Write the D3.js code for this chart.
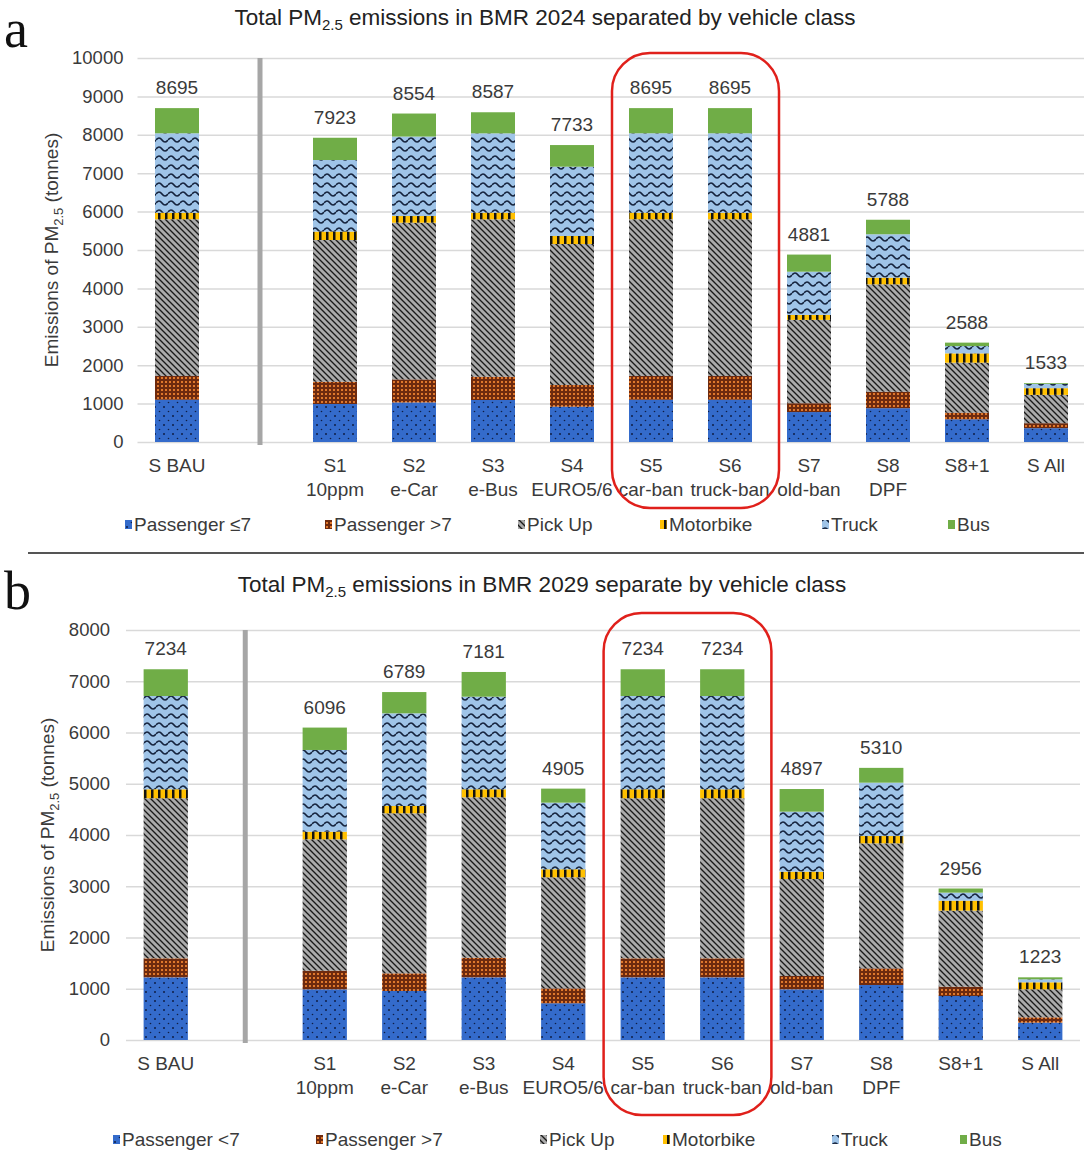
<!DOCTYPE html>
<html>
<head>
<meta charset="utf-8">
<script src="https://cdn.jsdelivr.net/npm/d3@7"></script>
<style>
  body { margin: 0; background: #fff; }
  text { font-family: "Liberation Sans", Arial, sans-serif; }
</style>
</head>
<body>
<svg id="chart" width="1084" height="1152"></svg>
<script>
// ---- data -------------------------------------------------------------
const scenarios = ["S BAU", "S1", "S2", "S3", "S4", "S5", "S6", "S7", "S8", "S8+1", "S All"];
const scenarioNotes = ["", "10ppm", "e-Car", "e-Bus", "EURO5/6", "car-ban", "truck-ban", "old-ban", "DPF", "", ""];

const classes2024 = ["Passenger ≤7", "Passenger >7", "Pick Up", "Motorbike", "Truck", "Bus"];
const classes2029 = ["Passenger <7", "Passenger >7", "Pick Up", "Motorbike", "Truck", "Bus"];

// 2024 emissions (tonnes) per vehicle class, one value per scenario
const passengerSmall2024 = [1100, 990, 1030, 1094, 919, 1100, 1100, 780, 880, 590, 360];
const passengerLarge2024 = [620, 580, 600, 607, 565, 620, 620, 230, 430, 175, 130];
const pickUp2024         = [4080, 3690, 4080, 4097, 3672, 4080, 4080, 2170, 2795, 1300, 737];
const motorbike2024      = [170, 220, 175, 174, 209, 170, 170, 130, 175, 243, 175];
const truck2024          = [2070, 1863, 2069, 2066, 1805, 2070, 2070, 1125, 1130, 190, 110];
const bus2024            = [655, 580, 600, 549, 563, 655, 655, 446, 378, 90, 21];

// 2029 emissions (tonnes) per vehicle class, one value per scenario
const passengerSmall2029 = [1223, 989, 956, 1223, 716, 1223, 1223, 989, 1073, 859, 338];
const passengerLarge2029 = [371, 364, 345, 383, 292, 371, 371, 260, 325, 182, 105];
const pickUp2029         = [3122, 2562, 3122, 3129, 2166, 3122, 3122, 1892, 2439, 1483, 546];
const motorbike2029      = [176, 150, 143, 157, 157, 176, 176, 144, 143, 195, 137];
const truck2029          = [1820, 1594, 1808, 1807, 1300, 1820, 1820, 1170, 1041, 156, 58];
const bus2029            = [522, 437, 415, 482, 274, 522, 522, 442, 289, 81, 39];

const yTicks2024 = [0, 1000, 2000, 3000, 4000, 5000, 6000, 7000, 8000, 9000, 10000];
const yTicks2029 = [0, 1000, 2000, 3000, 4000, 5000, 6000, 7000, 8000];

// ---- drawing ----------------------------------------------------------
const svg = d3.select("#chart");
const TEXT = "#3a3a3a";
const GAP = "__gap__";
const keys = ["c0", "c1", "c2", "c3", "c4", "c5"];
const fills = keys.map(k => `url(#pat-${k})`);

// Hatch patterns for the vehicle classes
const defs = svg.append("defs");
function pattern(id, w, h) {
  return defs.append("pattern").attr("id", id).attr("patternUnits", "userSpaceOnUse")
    .attr("width", w).attr("height", h);
}
// Passenger small: blue with sparse dark dots
let p = pattern("pat-c0", 9, 9);
p.append("rect").attr("width", 9).attr("height", 9).attr("fill", "#346bcb");
p.append("circle").attr("cx", 2).attr("cy", 2).attr("r", 1).attr("fill", "#0e1d45");
p.append("circle").attr("cx", 6.5).attr("cy", 6.5).attr("r", 0.8).attr("fill", "#0e1d45");
// Passenger large: brown grid with orange dots
p = pattern("pat-c1", 4, 4);
p.append("rect").attr("width", 4).attr("height", 4).attr("fill", "#6e2a0e");
p.append("rect").attr("x", 1).attr("y", 1).attr("width", 2).attr("height", 2).attr("fill", "#e0782c");
// Pick up: grey with dark diagonal stripes
p = pattern("pat-c2", 6, 6);
p.append("rect").attr("width", 6).attr("height", 6).attr("fill", "#ababab");
p.append("path").attr("d", "M0,0L6,6M-1,5L1,7M5,-1L7,1")
  .attr("stroke", "#1a1a1a").attr("stroke-width", 1.35);
// Motorbike: yellow with black vertical bars
p = pattern("pat-c3", 7, 10);
p.append("rect").attr("width", 7).attr("height", 10).attr("fill", "#ffc000");
p.append("rect").attr("x", 4).attr("width", 2.5).attr("height", 10).attr("fill", "#121212");
// Truck: light blue with dark waves
p = pattern("pat-c4", 12, 9);
p.append("rect").attr("width", 12).attr("height", 9).attr("fill", "#9fc4e8");
p.append("path").attr("d", "M0,5 Q3,1 6,5 T12,5")
  .attr("fill", "none").attr("stroke", "#15233d").attr("stroke-width", 1.7);
// Bus: solid green
p = pattern("pat-c5", 4, 4);
p.append("rect").attr("width", 4).attr("height", 4).attr("fill", "#70ad47");

function drawPanel(cfg) {
  const g = svg.append("g");
  const rows = scenarios.map((s, i) => {
    const r = { scenario: s, note: scenarioNotes[i] };
    cfg.series.forEach((arr, j) => { r[keys[j]] = arr[i]; });
    r.total = d3.sum(cfg.series, arr => arr[i]);
    return r;
  });
  const domain = [scenarios[0], GAP, ...scenarios.slice(1)];
  const x = d3.scaleBand().domain(domain).range([cfg.left, cfg.right])
    .paddingInner(0.443).paddingOuter(0.2215);
  const y = d3.scaleLinear().domain([0, cfg.yMax]).range([cfg.bottom, cfg.top]);
  const bw = x.bandwidth();

  // grid + tick labels
  const axis = g.append("g").attr("transform", `translate(${cfg.left},0)`)
    .call(d3.axisLeft(y).tickValues(cfg.yTicks).tickSize(-(cfg.gridRight - cfg.left))
      .tickPadding(cfg.tickPad).tickFormat(d3.format("d")));
  axis.select(".domain").remove();
  axis.selectAll(".tick line").attr("stroke", "#d9d9d9").attr("stroke-width", 1.5);
  axis.selectAll(".tick text").attr("fill", TEXT).style("font-size", "18.5px")
    .style("font-family", '"Liberation Sans", Arial, sans-serif');

  // stacked bars
  const stacked = d3.stack().keys(keys)(rows);
  g.append("g").selectAll("g").data(stacked).join("g")
    .attr("fill", (d, i) => fills[i])
    .selectAll("rect").data(d => d).join("rect")
    .attr("x", d => x(d.data.scenario))
    .attr("width", bw)
    .attr("y", d => y(d[1]))
    .attr("height", d => y(d[0]) - y(d[1]));

  // totals above bars
  g.append("g").selectAll("text").data(rows).join("text")
    .attr("x", d => x(d.scenario) + bw / 2)
    .attr("y", d => y(d.total) - 14)
    .attr("text-anchor", "middle").attr("fill", TEXT).style("font-size", "19px")
    .text(d => d.total);

  // baseline separator between BAU and the scenarios
  const sx = x(GAP) + bw / 2 + cfg.sepShift;
  g.append("line").attr("x1", sx).attr("x2", sx)
    .attr("y1", cfg.top).attr("y2", cfg.bottom + 3)
    .attr("stroke", "#a6a6a6").attr("stroke-width", 5);

  // category labels
  const lab = g.append("g").selectAll("text").data(rows).join("text")
    .attr("text-anchor", "middle").attr("fill", TEXT).style("font-size", "19px");
  lab.append("tspan").attr("x", d => x(d.scenario) + bw / 2).attr("y", cfg.bottom + 30)
    .text(d => d.scenario);
  lab.append("tspan").attr("x", d => x(d.scenario) + bw / 2).attr("y", cfg.bottom + 54)
    .text(d => d.note);

  // highlight around the two ban scenarios
  const bx0 = x("S5") - 17, bx1 = x("S6") + bw + 27;
  g.append("rect").attr("x", bx0).attr("y", cfg.boxTop)
    .attr("width", bx1 - bx0).attr("height", cfg.boxBottom - cfg.boxTop)
    .attr("rx", 38).attr("ry", 38)
    .attr("fill", "none").attr("stroke", "#e0201b").attr("stroke-width", 2.5);

  // title
  const t = g.append("text").attr("x", cfg.titleX).attr("y", cfg.titleY)
    .attr("text-anchor", "middle").attr("fill", "#222").style("font-size", "22.5px");
  t.append("tspan").text("Total PM");
  t.append("tspan").attr("dy", 5).style("font-size", "15px").text("2.5");
  t.append("tspan").attr("dy", -5).text(` emissions in BMR ${cfg.year} ${cfg.titleVerb} by vehicle class`);

  // y axis title
  const yt = g.append("text")
    .attr("transform", `translate(${cfg.yTitleX},${(cfg.top + cfg.bottom) / 2}) rotate(-90)`)
    .attr("text-anchor", "middle").attr("fill", TEXT).style("font-size", "19px");
  yt.append("tspan").text("Emissions of PM");
  yt.append("tspan").attr("dy", 5).style("font-size", "13px").text("2.5");
  yt.append("tspan").attr("dy", -5).text(" (tonnes)");

  // legend
  const lg = g.append("g").selectAll("g").data(cfg.classes).join("g")
    .attr("transform", (d, i) => `translate(${cfg.legendX[i]},${cfg.legendY})`);
  lg.append("rect").attr("x", 0).attr("y", -5).attr("width", 7).attr("height", 9)
    .attr("fill", (d, i) => fills[i]);
  lg.append("text").attr("x", 9).attr("y", 6).attr("fill", TEXT).style("font-size", "19px")
    .text(d => d);

  // panel letter
  svg.append("text").attr("x", 4).attr("y", cfg.letterY)
    .style("font-family", '"Liberation Serif", "DejaVu Serif", serif')
    .style("font-size", "54px").attr("fill", "#111").text(cfg.letter);
}

drawPanel({
  letter: "a", letterY: 47, year: 2024, titleVerb: "separated",
  series: [passengerSmall2024, passengerLarge2024, pickUp2024, motorbike2024, truck2024, bus2024],
  classes: classes2024, yTicks: yTicks2024, yMax: 10000,
  top: 58, bottom: 442, left: 137.5, right: 1085.5, gridRight: 1084, tickPad: 14,
  sepShift: 4, boxTop: 53, boxBottom: 508,
  titleX: 545, titleY: 25, yTitleX: 58,
  legendX: [125, 325, 518, 660, 822, 948], legendY: 525
});

// panel divider
svg.append("line").attr("x1", 28).attr("x2", 1084).attr("y1", 553).attr("y2", 553)
  .attr("stroke", "#555").attr("stroke-width", 2);

drawPanel({
  letter: "b", letterY: 609, year: 2029, titleVerb: "separate",
  series: [passengerSmall2029, passengerLarge2029, pickUp2029, motorbike2029, truck2029, bus2029],
  classes: classes2029, yTicks: yTicks2029, yMax: 8000,
  top: 630, bottom: 1040, left: 126, right: 1080, gridRight: 1080, tickPad: 16,
  sepShift: 0, boxTop: 613, boxBottom: 1115,
  titleX: 542, titleY: 592, yTitleX: 54,
  legendX: [113, 316, 540, 663, 832, 960], legendY: 1140
});
</script>
</body>
</html>
